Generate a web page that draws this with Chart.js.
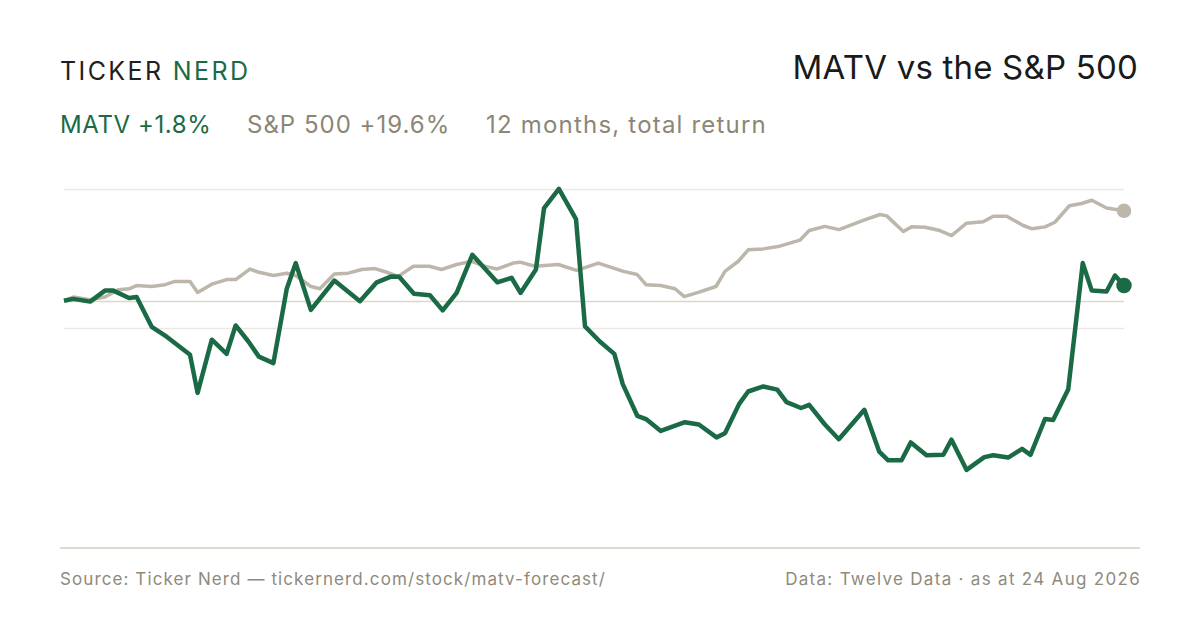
<!DOCTYPE html>
<html>
<head>
<meta charset="utf-8">
<script src="https://cdn.jsdelivr.net/npm/chart.js@4"></script>
<style>
  html, body { margin: 0; padding: 0; background: #fff; }
  body { width: 1200px; height: 630px; position: relative; overflow: hidden; font-family: Inter, "Noto Sans", sans-serif; }
  .brand { position: absolute; left: 60px; top: 56px; font-size: 25px; letter-spacing: 2.4px; color: #1f1f1f; line-height: 30px; }
  .brand span { color: #1a6b45; }
  .title { position: absolute; right: 62px; top: 47px; font-size: 33px; letter-spacing: 0.2px; color: #1a1a1a; line-height: 40px; }
  .sub { position: absolute; top: 110px; font-size: 24px; line-height: 30px; color: #8c8676; }
  .foot { position: absolute; top: 568px; font-size: 17px; line-height: 22px; color: #8f8a7c; }
  .rule { position: absolute; left: 60px; top: 547px; width: 1080px; height: 2px; background: #dfdbd1; }
  #wrap { position: absolute; left: 0; top: 170px; width: 1200px; height: 360px; }
</style>
</head>
<body>
<div class="brand">TICKER <span>NERD</span></div>
<div class="title">MATV vs the S&amp;P 500</div>
<div class="sub" style="left:60px;color:#1a6b45;letter-spacing:0.6px">MATV +1.8%</div>
<div class="sub" style="left:247px;letter-spacing:1px">S&amp;P 500 +19.6%</div>
<div class="sub" style="left:486px;letter-spacing:1.2px">12 months, total return</div>
<div id="wrap"><canvas id="chart"></canvas></div>
<div class="rule"></div>
<div class="foot" style="left:60px;letter-spacing:1.1px">Source: Ticker Nerd — tickernerd.com/stock/matv-forecast/</div>
<div class="foot" style="right:59px;letter-spacing:1.3px">Data: Twelve Data · as at 24 Aug 2026</div>
<script>
// days since 24 Aug 2025, return in %
const matvDays = [0, 3.2, 9, 14.1, 17, 22.4, 25, 30.2, 34.8, 43.4, 46, 50.9, 56, 59.1, 63.5, 67.1, 72.1, 76.7, 79.8, 85, 93.1, 101.9,
  107.7, 112.8, 115.4, 120.5, 126, 130.4, 135.2, 140.6, 149.2, 154.1, 157.2, 162.5, 165.3, 170.4, 176.3, 179.4, 184.5, 189.5,
  192.4, 197.4, 200.4, 205.5, 213.8, 218.6, 224.7, 227.6, 232.5, 235.6, 240.8, 245.6, 248.8, 253.8, 256.6, 262, 266.8, 275.6,
  280.7, 283.8, 288.4, 291.6, 297, 302.8, 305.6, 310.8, 316.9, 320, 325.1, 329.9, 332.8, 337.8, 340.6, 345.8, 350.8, 353.9,
  359, 361.9, 365];
const matvReturn = [0, 0.4, -0.2, 2.2, 2.2, 0.6, 0.8, -5.7, -7.6, -11.8, -20.1, -8.5, -11.6, -5.4, -8.9, -12.2, -13.6, 2.6, 8.2, -2, 4.4, -0.1,
  4, 5.3, 5.2, 1.5, 1.2, -2.1, 1.7, 10, 4, 5, 1.7, 6.8, 20.2, 24.4, 17.8, -5.6, -8.9, -11.6,
  -18.2, -25.1, -25.8, -28.4, -26.5, -27, -29.8, -28.9, -22.5, -19.8, -18.7, -19.4, -22.1, -23.4, -22.7, -27, -30.2, -23.8,
  -32.9, -34.8, -34.8, -30.9, -33.7, -33.6, -30.3, -36.9, -34.1, -33.7, -34.2, -32.3, -33.6, -25.8, -26, -19.3, 8.2, 2.2,
  2, 5.5, 3.3];

const spxDays = [0, 3.2, 9, 14.1, 18.7, 22.4, 25, 30.2, 34.8, 38.2, 43.4, 46, 50.9, 56, 59.1, 64, 67.1, 72.1, 76.7, 79.8, 85, 88.1,
  93.1, 97.9, 102.5, 107.1, 111.1, 115.1, 120.3, 125.8, 130, 135.2, 140.4, 144.4, 149, 154.7, 157, 162.2, 165.6, 170.2, 176.5,
  184, 192.6, 197.4, 200.4, 205.5, 210.4, 213.6, 218.4, 224.5, 227.6, 232.2, 235.6, 240.8, 245.9, 253.4, 256.6, 262, 266.9,
  275.2, 281, 283.3, 289, 291.9, 296.5, 301.6, 305.6, 310.8, 316.5, 320, 324.6, 330.3, 333.2, 337.8, 341.2, 346.2, 350.4,
  353.9, 359, 365];
const spxReturn = [0, 0.8, 0.2, 0.8, 2.4, 2.6, 3.3, 3.1, 3.5, 4.2, 4.2, 1.8, 3.6, 4.6, 4.6, 6.9, 6.2, 5.5, 6, 5.5, 3.1, 2.6,
  5.8, 6, 6.8, 7, 6.2, 5.3, 7.5, 7.5, 6.8, 7.9, 8.6, 7.6, 6.9, 8.2, 8.4, 7.5, 7.7, 7.9, 6.6,
  8.2, 6.4, 5.7, 3.5, 3.3, 2.6, 0.9, 1.8, 3.1, 6.4, 8.6, 11.1, 11.3, 11.8, 13.2, 15.3, 16.2, 15.5,
  17.5, 18.8, 18.5, 15.1, 16.1, 16, 15.3, 14.2, 16.9, 17.2, 18.4, 18.4, 16.4, 15.7, 16.1, 17.1, 20.7, 21.2,
  21.9, 20.2, 19.6];

const gridTicks = [-6, 0, 24.4];

const GREEN = "#1a6b45";
const GREY = "#bdb6aa";

const toPoints = (days, vals) => days.map((d, i) => ({ x: d, y: vals[i] }));
const lastDot = (r) => (ctx) => (ctx.dataIndex === ctx.dataset.data.length - 1 ? r : 0);

// horizontal guide lines, drawn under the lines
const gridPlugin = {
  id: "gridLines",
  beforeDatasetsDraw(chart) {
    const { ctx, chartArea, scales } = chart;
    ctx.save();
    gridTicks.forEach((v) => {
      const y = Math.round(scales.y.getPixelForValue(v)) + 0.5;
      ctx.strokeStyle = v === 0 ? "#ddd6ca" : "#ece9e3";
      ctx.lineWidth = 1.4;
      ctx.beginPath();
      ctx.moveTo(chartArea.left, y);
      ctx.lineTo(chartArea.right, y);
      ctx.stroke();
    });
    ctx.restore();
  },
};

new Chart(document.getElementById("chart"), {
  type: "line",
  data: {
    datasets: [
      {
        label: "MATV",
        data: toPoints(matvDays, matvReturn),
        borderColor: GREEN,
        backgroundColor: GREEN,
        borderWidth: 4.5,
        pointRadius: lastDot(5.5),
        pointHoverRadius: 0,
        borderJoinStyle: "round",
        tension: 0,
        clip: false,
      },
      {
        label: "S&P 500",
        data: toPoints(spxDays, spxReturn),
        borderColor: GREY,
        backgroundColor: GREY,
        borderWidth: 3.5,
        pointRadius: lastDot(5.5),
        pointHoverRadius: 0,
        borderJoinStyle: "round",
        tension: 0,
        clip: false,
      },
    ],
  },
  options: {
    responsive: true,
    maintainAspectRatio: false,
    animation: false,
    layout: { autoPadding: false, padding: { left: 64, right: 76, top: 0, bottom: 0 } },
    plugins: { legend: { display: false }, tooltip: { enabled: false } },
    scales: {
      x: { type: "linear", min: 0, max: 365, display: false },
      y: { min: -50, max: 28.5, display: false },
    },
  },
  plugins: [gridPlugin],
});
</script>
</body>
</html>
